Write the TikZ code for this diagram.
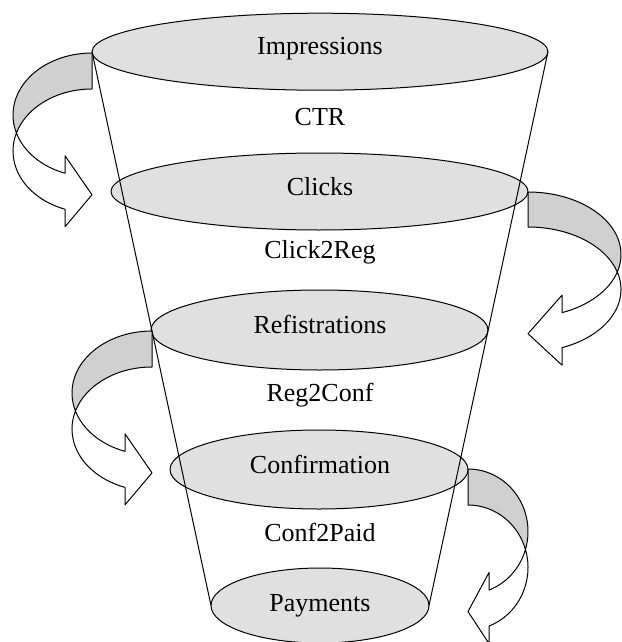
\documentclass[tikz,border=0pt]{standalone}
\usepackage{fontspec}
\setmainfont{Liberation Serif}
\usetikzlibrary{shapes.geometric}

\definecolor{stagefill}{HTML}{E0E0E0}
\definecolor{bandback}{HTML}{D0D0D0}

\tikzset{
  outline/.style={draw=black, line width=1pt, line join=round},
  stage/.style={ellipse, outline, fill=stagefill, inner sep=0pt, outer sep=0pt},
  caption/.style={anchor=base, inner sep=0pt, font=\fontsize{26}{30}\selectfont},
  backband/.style={outline, fill=bandback},
  frontband/.style={outline, fill=white},
}

% A ribbon arrow that curls out of the funnel and back in.
% #1,#2 centre of the upper rim ellipse, #3 side (1 right, -1 left),
% #4 x radius, #5 y radius, #6 band width, #7 head base offset
\newcommand{\curlarrow}[7]{%
  \begin{scope}[shift={(#1,#2)}, xscale=#3]
    \pgfmathsetmacro\meet{asin((#6/2)/#5)}
    \pgfmathsetmacro\base{acos(#7/#4)}
    \pgfmathsetmacro\meetx{#4*cos(\meet)}
    \pgfmathsetmacro\inner{#5*sin(\base)}
    \pgfmathsetmacro\outer{#6+#5*sin(\base)}
    \pgfmathsetmacro\tipy{(\inner+\outer)/2+3.5}
    % back of the ribbon
    \draw[backband] (0,-#5)
      arc[start angle=-90, end angle=\meet, x radius=#4, y radius=#5]
      arc[start angle=-\meet, end angle=-90, x radius=#4, y radius=#5]
      -- cycle;
    % front of the ribbon with its head
    \draw[frontband] (\meetx,#6/2)
      arc[start angle=-\meet, end angle=\base, x radius=#4, y radius=#5]
      -- (#7,\outer+17.5) -- (0,\tipy) -- (#7,\inner-17.5) -- (#7,\inner)
      arc[start angle=\base, end angle=\meet, x radius=#4, y radius=#5]
      -- cycle;
  \end{scope}}

\begin{document}
\begin{tikzpicture}[x=1pt, y=-1pt]
  \useasboundingbox (0,0) rectangle (621,642);

  % funnel stages
  \node[stage, minimum width=456pt, minimum height=77pt] (imp) at (320,51.7) {};
  \node[stage, minimum width=417pt, minimum height=77pt] (clk) at (319.5,191.5) {};
  \node[stage, minimum width=337pt, minimum height=80pt] (reg) at (319.5,330) {};
  \node[stage, minimum width=298pt, minimum height=79pt] (cnf) at (319,469.5) {};
  \node[stage, minimum width=218pt, minimum height=75pt] (pay) at (320,605.5) {};

  % funnel sides
  \draw[outline] (imp.west) -- (pay.west);
  \draw[outline] (imp.east) -- (pay.east);

  % conversion arrows
  \curlarrow{92}{115}{-1}{79}{62}{36}{27}
  \curlarrow{528}{254.5}{1}{93}{62.5}{35}{34}
  \curlarrow{152}{393}{-1}{80}{62}{36}{27}
  \curlarrow{468}{531.5}{1}{60}{62.5}{36}{21}

  % stage names
  \node[caption] (timp) at (320,55) {Impressions};
  \node[caption] (tclk) at (320,195) {Clicks};
  \node[caption] (treg) at (320,333) {Refistrations};
  \node[caption] (tcnf) at (320,473) {Confirmation};
  \node[caption] (tpay) at (320,611.5) {Payments};

  % conversion rates
  \node[caption] (rctr) at (320,125) {CTR};
  \node[caption] (rc2r) at (320,258) {Click2Reg};
  \node[caption] (rr2c) at (320,401.5) {Reg2Conf};
  \node[caption] (rc2p) at (320,541.5) {Conf2Paid};
\end{tikzpicture}
\end{document}
